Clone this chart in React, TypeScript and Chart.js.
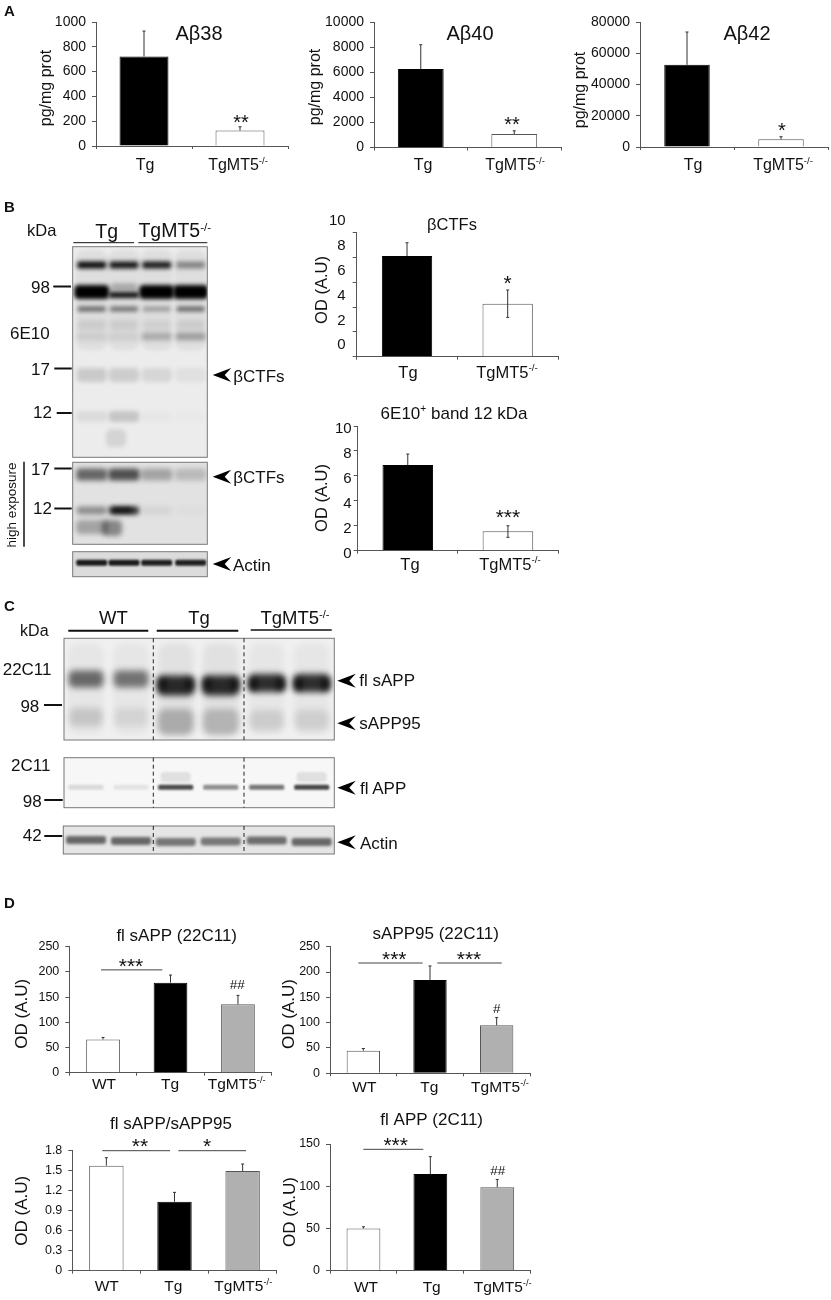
import React, { useEffect, useRef } from "react";
import { Chart, registerables } from "chart.js";

Chart.register(...registerables);

const FONT = '"Liberation Sans", Arial, sans-serif';

// ---- categories ----
const twoGroups = ["Tg", "TgMT5^-/-^"];
const threeGroups = ["WT", "Tg", "TgMT5^-/-^"];

// ---- series (bar value, error top, optional error bottom) ----
const abeta38Values = [722, 125];
const abeta38Upper = [927, 155];
const abeta40Values = [6250, 1070];
const abeta40Upper = [8190, 1330];
const abeta42Values = [52600, 4900];
const abeta42Upper = [73600, 6600];
const bctfValues = [8.12, 4.27];
const bctfUpper = [9.19, 5.38];
const bctfLower = [null, 3.17];
const band12Values = [6.87, 1.55];
const band12Upper = [7.75, 2.0];
const band12Lower = [null, 1.07];
const flSappValues = [66, 178.6, 135.6];
const flSappUpper = [70, 193.8, 153.4];
const sapp95Values = [44.7, 184, 94.7];
const sapp95Upper = [49, 212, 110];
const ratioValues = [1.575, 1.035, 1.495];
const ratioUpper = [1.695, 1.175, 1.6];
const flAppValues = [50, 114.5, 98.7];
const flAppUpper = [52, 135, 108];

const BLACK = "#000000";
const WHITE = "#ffffff";
const GREY = "#b0b0b0";

type Mark = { text: string; cat: number; value: number; size: number; star?: boolean };
type Bracket = { from: number; to: number; value: number };

interface Spec {
  labels: string[];
  values: number[];
  upper: number[];
  lower?: (number | null)[];
  colors: string[];
  plot: [number, number, number, number]; // left, top, right, bottom
  max: number;
  step: number;
  barPct: number;
  tickSize: number;
  tickGap: number;
  labelOffset: number;
  title: string;
  titleAt: [number, number];
  titleSize: number;
  yTitle: string;
  yTitleAt: [number, number];
  yTitleSize: number;
  xLabelX: number[];
  xLabelY: number;
  xLabelSize: number;
  marks: Mark[];
  brackets: Bracket[];
}

const specs: Spec[] = [
  {
    labels: twoGroups, values: abeta38Values, upper: abeta38Upper, colors: [BLACK, WHITE],
    plot: [96, 22, 288, 146], max: 1000, step: 200, barPct: 0.51, tickSize: 14, tickGap: 6, labelOffset: 0,
    title: "Aβ38", titleAt: [199, 34], titleSize: 20,
    yTitle: "pg/mg prot", yTitleAt: [47, 88], yTitleSize: 16,
    xLabelX: [145, 238], xLabelY: 166, xLabelSize: 16,
    marks: [{ text: "**", cat: 1.01, value: 210, size: 20, star: true }], brackets: [],
  },
  {
    labels: twoGroups, values: abeta40Values, upper: abeta40Upper, colors: [BLACK, WHITE],
    plot: [374, 22, 561, 147.5], max: 10000, step: 2000, barPct: 0.49, tickSize: 14, tickGap: 6, labelOffset: 0,
    title: "Aβ40", titleAt: [470, 34], titleSize: 20,
    yTitle: "pg/mg prot", yTitleAt: [316, 87], yTitleSize: 16,
    xLabelX: [423, 515], xLabelY: 166, xLabelSize: 16,
    marks: [{ text: "**", cat: 0.976, value: 2050, size: 20, star: true }], brackets: [],
  },
  {
    labels: twoGroups, values: abeta42Values, upper: abeta42Upper, colors: [BLACK, WHITE],
    plot: [640, 22, 828, 147], max: 80000, step: 20000, barPct: 0.484, tickSize: 14, tickGap: 6, labelOffset: 0,
    title: "Aβ42", titleAt: [747, 34], titleSize: 20,
    yTitle: "pg/mg prot", yTitleAt: [581, 90], yTitleSize: 16,
    xLabelX: [693, 783], xLabelY: 166, xLabelSize: 16,
    marks: [{ text: "*", cat: 1.01, value: 12180, size: 20, star: true }], brackets: [],
  },
  {
    labels: twoGroups, values: bctfValues, upper: bctfUpper, lower: bctfLower, colors: [BLACK, WHITE],
    plot: [356.7, 232.7, 558, 356.7], max: 10, step: 2, barPct: 0.5, tickSize: 15, tickGap: 7, labelOffset: -11.5,
    title: "βCTFs", titleAt: [452, 225], titleSize: 16.5,
    yTitle: "OD (A.U)", yTitleAt: [322, 290], yTitleSize: 16.5,
    xLabelX: [408, 507], xLabelY: 373, xLabelSize: 16.5,
    marks: [{ text: "*", cat: 1.0, value: 6.19, size: 21, star: true }], brackets: [],
  },
  {
    labels: twoGroups, values: band12Values, upper: band12Upper, lower: band12Lower, colors: [BLACK, WHITE],
    plot: [357.7, 426, 558, 550.7], max: 10, step: 2, barPct: 0.505, tickSize: 15, tickGap: 2, labelOffset: 3.3,
    title: "6E10^+^ band 12 kDa", titleAt: [454, 414], titleSize: 17,
    yTitle: "OD (A.U)", yTitleAt: [322, 498], yTitleSize: 16.5,
    xLabelX: [410, 510], xLabelY: 565, xLabelSize: 16.5,
    marks: [{ text: "***", cat: 1.0, value: 2.94, size: 21, star: true }], brackets: [],
  },
  {
    labels: threeGroups, values: flSappValues, upper: flSappUpper, colors: [WHITE, BLACK, GREY],
    plot: [69.3, 946.7, 271.7, 1072.7], max: 250, step: 50, barPct: 0.5, tickSize: 12.5, tickGap: 6, labelOffset: 0,
    title: "fl sAPP (22C11)", titleAt: [176.7, 936], titleSize: 17,
    yTitle: "OD (A.U)", yTitleAt: [22, 1013.7], yTitleSize: 17,
    xLabelX: [104, 170, 236.7], xLabelY: 1085, xLabelSize: 15.5,
    marks: [
      { text: "***", cat: 0.414, value: 218, size: 21, star: true },
      { text: "##", cat: 1.99, value: 174, size: 13.5 },
    ],
    brackets: [{ from: -0.03, to: 0.878, value: 204 }],
  },
  {
    labels: threeGroups, values: sapp95Values, upper: sapp95Upper, colors: [WHITE, BLACK, GREY],
    plot: [330, 946.7, 530, 1073.3], max: 250, step: 50, barPct: 0.5, tickSize: 12.5, tickGap: 6, labelOffset: 0,
    title: "sAPP95 (22C11)", titleAt: [435.7, 934], titleSize: 17,
    yTitle: "OD (A.U)", yTitleAt: [289, 1014], yTitleSize: 17,
    xLabelX: [364.3, 429.3, 500], xLabelY: 1087.7, xLabelSize: 15.5,
    marks: [
      { text: "***", cat: 0.464, value: 231.6, size: 21, star: true },
      { text: "***", cat: 1.585, value: 231.6, size: 21, star: true },
      { text: "#", cat: 2.0, value: 127, size: 13.5 },
    ],
    brackets: [
      { from: -0.075, to: 0.89, value: 217.8 },
      { from: 1.109, to: 2.075, value: 217.8 },
    ],
  },
  {
    labels: threeGroups, values: ratioValues, upper: ratioUpper, colors: [WHITE, BLACK, GREY],
    plot: [72.3, 1150.7, 276.7, 1270.7], max: 1.8, step: 0.3, barPct: 0.505, tickSize: 12.5, tickGap: 6, labelOffset: 0,
    title: "fl sAPP/sAPP95", titleAt: [171, 1124], titleSize: 17,
    yTitle: "OD (A.U)", yTitleAt: [22, 1210.7], yTitleSize: 17,
    xLabelX: [106.7, 173.3, 243.3], xLabelY: 1286.7, xLabelSize: 15.5,
    marks: [
      { text: "**", cat: 0.494, value: 1.915, size: 21, star: true },
      { text: "*", cat: 1.48, value: 1.915, size: 21, star: true },
    ],
    brackets: [
      { from: -0.06, to: 0.934, value: 1.8 },
      { from: 1.056, to: 2.05, value: 1.8 },
    ],
  },
  {
    labels: threeGroups, values: flAppValues, upper: flAppUpper, colors: [WHITE, BLACK, GREY],
    plot: [330, 1144, 530.7, 1270.7], max: 150, step: 50, barPct: 0.505, tickSize: 12.5, tickGap: 6, labelOffset: 0,
    title: "fl APP (2C11)", titleAt: [431.7, 1120], titleSize: 17,
    yTitle: "OD (A.U)", yTitleAt: [290, 1212], yTitleSize: 17,
    xLabelX: [366, 431.7, 502.7], xLabelY: 1288, xLabelSize: 15.5,
    marks: [
      { text: "***", cat: 0.482, value: 152.7, size: 21, star: true },
      { text: "##", cat: 2.007, value: 117.6, size: 13.5 },
    ],
    brackets: [{ from: -0.002, to: 0.895, value: 143.7 }],
  },
];

// ---- text helpers ----
function richWidth(ctx: CanvasRenderingContext2D, text: string, size: number) {
  let w = 0;
  text.split("^").forEach((part, i) => {
    ctx.font = `${i % 2 ? size * 0.6 : size}px ${FONT}`;
    w += ctx.measureText(part).width;
  });
  return w;
}

function drawRich(ctx: CanvasRenderingContext2D, text: string, cx: number, cy: number, size: number) {
  const total = richWidth(ctx, text, size);
  let x = cx - total / 2;
  ctx.textAlign = "left";
  ctx.textBaseline = "middle";
  text.split("^").forEach((part, i) => {
    const sup = i % 2 === 1;
    ctx.font = `${sup ? size * 0.6 : size}px ${FONT}`;
    ctx.fillText(part, x, sup ? cy - size * 0.3 : cy);
    x += ctx.measureText(part).width;
  });
}

function BarPanel({ spec }: { spec: Spec }) {
  const ref = useRef<HTMLCanvasElement>(null);
  const [pl, pt, pr, pb] = spec.plot;
  const cl = Math.max(0, Math.floor(pl - 72));
  const ct = Math.max(0, Math.floor(pt - 40));
  const cr = Math.min(831, Math.ceil(pr + 3));
  const cb = Math.min(1300, Math.ceil(pb + 28));
  const W = cr - cl;
  const H = cb - ct;

  useEffect(() => {
    const axisColor = "#555555";
    const overlay = {
      id: "overlay",
      afterDatasetsDraw(chart: any) {
        const c = chart.ctx as CanvasRenderingContext2D;
        const x = chart.scales.x;
        const y = chart.scales.y;
        c.save();
        c.strokeStyle = "#333333";
        c.lineWidth = 1;
        spec.upper.forEach((u, i) => {
          const px = x.getPixelForValue(i);
          const top = y.getPixelForValue(u);
          const low = spec.lower && spec.lower[i] != null ? (spec.lower[i] as number) : spec.values[i];
          const bottom = y.getPixelForValue(low);
          c.beginPath();
          c.moveTo(px, bottom);
          c.lineTo(px, top);
          c.moveTo(px - 1.5, top);
          c.lineTo(px + 1.5, top);
          if (spec.lower && spec.lower[i] != null) {
            c.moveTo(px - 1.5, bottom);
            c.lineTo(px + 1.5, bottom);
          }
          c.stroke();
        });
        c.strokeStyle = "#444444";
        spec.brackets.forEach((b) => {
          const py = y.getPixelForValue(b.value);
          c.beginPath();
          c.moveTo(x.getPixelForValue(b.from), py);
          c.lineTo(x.getPixelForValue(b.to), py);
          c.stroke();
        });
        c.fillStyle = "#111111";
        spec.marks.forEach((m) => {
          const px = x.getPixelForValue(m.cat);
          const py = y.getPixelForValue(m.value) + (m.star ? m.size * 0.2 : 0);
          drawRich(c, m.text, px, py, m.size);
        });
        drawRich(c, spec.title, spec.titleAt[0] - cl, spec.titleAt[1] - ct, spec.titleSize);
        spec.labels.forEach((l, i) => {
          drawRich(c, l, spec.xLabelX[i] - cl, spec.xLabelY - ct, spec.xLabelSize);
        });
        c.translate(spec.yTitleAt[0] - cl, spec.yTitleAt[1] - ct);
        c.rotate(-Math.PI / 2);
        drawRich(c, spec.yTitle, 0, 0, spec.yTitleSize);
        c.restore();
      },
    };

    const chart = new Chart(ref.current as HTMLCanvasElement, {
      type: "bar",
      data: {
        labels: spec.labels.map((l) => l.replace(/\^/g, "")),
        datasets: [
          {
            data: spec.values,
            backgroundColor: spec.colors,
            borderColor: spec.colors.map((k) => (k === BLACK ? BLACK : "#555555")),
            borderWidth: 1,
            barPercentage: spec.barPct,
            categoryPercentage: 1,
          },
        ],
      },
      options: {
        responsive: false,
        animation: false,
        events: [],
        layout: { padding: { left: 0, top: pt - ct, right: cr - pr, bottom: 0 } },
        plugins: { legend: { display: false }, tooltip: { enabled: false }, title: { display: false } },
        scales: {
          x: {
            grid: { drawOnChartArea: false, drawTicks: true, tickLength: 3, color: axisColor },
            border: { color: axisColor },
            ticks: { display: false },
            afterFit: (s: any) => {
              s.height = cb - pb;
            },
          },
          y: {
            min: 0,
            max: spec.max,
            grid: { drawOnChartArea: false, drawTicks: true, tickLength: 4, color: axisColor },
            border: { color: axisColor },
            ticks: {
              stepSize: spec.step,
              padding: spec.tickGap,
              labelOffset: spec.labelOffset,
              color: "#111111",
              font: { family: "Liberation Sans", size: spec.tickSize },
              callback: (v: any) => String(+(+v).toFixed(1)),
            },
            afterFit: (s: any) => {
              s.width = pl - cl;
            },
          },
        },
      } as any,
      plugins: [overlay],
    });
    return () => chart.destroy();
  }, []);

  return (
    <canvas
      ref={ref}
      width={W}
      height={H}
      style={{ position: "absolute", left: cl, top: ct, width: W, height: H, display: "block" }}
    />
  );
}

// ---- gel images: [centre x, centre y, width, height, darkness] ----
type Band = [number, number, number, number, number];
type Gel = { box: [number, number, number, number]; bg: string; blur: number; bands: Band[] };

const lanesB = [91.7, 124, 156.7, 190.7];
const lanesC = [86, 131, 175.7, 220.7, 266.7, 311.7];

const row = (lanes: number[], y: number | number[], w: number, h: number, d: number[]): Band[] =>
  lanes.map((x, i) => [x, Array.isArray(y) ? y[i] : y, w, h, d[i]] as Band);

const gels: Gel[] = [
  {
    box: [72.7, 246.7, 207.3, 457.3], bg: "#ececec", blur: 1.9,
    bands: [
      ...row(lanesB, 300, 32, 100, [0.06, 0.06, 0.06, 0.06]),
      ...row(lanesB, 265, 29, 7, [0.95, 0.9, 0.88, 0.4]),
      ...row([91.7, 156.7, 190.7], 292, 35, 14, [1, 1, 1]),
      [124, 295, 30, 6, 0.95],
      [124, 287, 26, 7, 0.25],
      ...row(lanesB, 309, 28, 5, [0.55, 0.5, 0.3, 0.55]),
      ...row(lanesB, 325, 28, 10, [0.08, 0.08, 0.06, 0.08]),
      ...row(lanesB, 336.5, 30, 8, [0.08, 0.07, 0.22, 0.28]),
      ...row(lanesB, 375, 30, 14, [0.14, 0.13, 0.09, 0.05]),
      ...row(lanesB, 416.5, 30, 11, [0.07, 0.16, 0.02, 0.01]),
      [116, 438, 20, 18, 0.1],
    ],
  },
  {
    box: [72.7, 462.3, 207.3, 544.3], bg: "#e2e2e2", blur: 2.6,
    bands: [
      ...row(lanesB, 474.5, 31, 12, [0.55, 0.65, 0.28, 0.18]),
      ...row(lanesB, 510.5, 30, 8, [0.38, 0.8, 0.06, 0.02]),
      [122, 510, 20, 4, 0.95],
      [92, 527, 32, 14, 0.28],
      [112, 528, 20, 16, 0.4],
    ],
  },
  {
    box: [72.7, 551.7, 207.3, 576.7], bg: "#dcdcdc", blur: 1.3,
    bands: row(lanesB, 562.7, 31, 6, [0.88, 0.88, 0.85, 0.85]),
  },
  {
    box: [64, 638.3, 334.3, 740], bg: "#f0f0f0", blur: 3.2,
    bands: [
      ...row(lanesC, 689, 36, 92, [0.04, 0.04, 0.06, 0.06, 0.04, 0.04]),
      ...row(lanesC.slice(0, 2), 679, 35, 17, [0.55, 0.5]),
      ...row(lanesC.slice(2, 4), 685.5, 37, 20, [0.82, 0.82]),
      ...row(lanesC.slice(4), 683, 36, 18, [0.8, 0.8]),
      ...row([162, 190, 207, 235, 253, 281, 298, 326], 684, 7, 12, [0.7, 0.7, 0.7, 0.7, 0.85, 0.85, 0.85, 0.85]),
      ...row(lanesC.slice(0, 2), 717, 33, 18, [0.14, 0.08]),
      ...row(lanesC.slice(2, 4), 722, 36, 26, [0.24, 0.2]),
      ...row(lanesC.slice(4), 720, 34, 20, [0.11, 0.1]),
    ],
  },
  {
    box: [64, 757.7, 334.3, 807.7], bg: "#f7f7f7", blur: 1.3,
    bands: [
      ...row(lanesC, 787.3, 35, 5, [0.12, 0.08, 0.7, 0.42, 0.52, 0.72]),
      ...row([175.7, 311.7], 777, 30, 10, [0.09, 0.09]),
    ],
  },
  {
    box: [63.3, 826, 334.3, 854], bg: "#e5e5e5", blur: 1.6,
    bands: row(lanesC, [840, 841, 842, 841.5, 840.5, 842], 40, 8, [0.55, 0.55, 0.48, 0.48, 0.52, 0.55]),
  },
];

const cutLines = [153.3, 244];
const cutSpans: [number, number][] = [[638.3, 740], [757.7, 807.7], [826, 854]];

// [x1, y1, x2, y2, line width]
const rules: [number, number, number, number, number][] = [
  [73.3, 242.7, 134, 242.7, 1], [138.3, 242.7, 207.3, 242.7, 1],
  [53.3, 286.5, 71, 286.5, 2], [54.3, 368.5, 71.7, 368.5, 2], [56.7, 413, 71.7, 413, 2],
  [54.3, 468.5, 71.7, 468.5, 2], [54.3, 508.5, 71.7, 508.5, 2], [24, 461.7, 24, 546.7, 1.5],
  [68.3, 630.7, 148.3, 630.7, 2], [156.7, 630.7, 238.3, 630.7, 2], [250.7, 630, 331.7, 630, 1.5],
  [44, 705, 62, 705, 2], [44.3, 800, 62.7, 800, 2], [44.3, 836, 62.3, 836, 2],
];

const arrowheads: [number, number][] = [
  [212.7, 375], [212.7, 476.7], [212.7, 564], [337.3, 680.7], [337.3, 723.3], [337.3, 787.7], [337.3, 842.3],
];

function GelCanvas() {
  const ref = useRef<HTMLCanvasElement>(null);
  useEffect(() => {
    const c = (ref.current as HTMLCanvasElement).getContext("2d") as CanvasRenderingContext2D;
    c.clearRect(0, 0, 831, 1300);
    gels.forEach((g) => {
      const [l, t, r, b] = g.box;
      c.save();
      c.beginPath();
      c.rect(l, t, r - l, b - t);
      c.clip();
      c.fillStyle = g.bg;
      c.fillRect(l, t, r - l, b - t);
      c.filter = `blur(${g.blur}px)`;
      g.bands.forEach(([x, y, w, h, d]) => {
        c.fillStyle = `rgba(0,0,0,${d})`;
        c.beginPath();
        c.roundRect(x - w / 2, y - h / 2, w, h, Math.min(h, w) * 0.3);
        c.fill();
      });
      c.restore();
      c.strokeStyle = "#777777";
      c.lineWidth = 1;
      c.strokeRect(l, t, r - l, b - t);
    });
    c.strokeStyle = "#222222";
    c.lineWidth = 1;
    c.setLineDash([4, 3]);
    cutLines.forEach((x) =>
      cutSpans.forEach(([t, b]) => {
        c.beginPath();
        c.moveTo(x, t);
        c.lineTo(x, b);
        c.stroke();
      })
    );
    c.setLineDash([]);
    c.strokeStyle = "#111111";
    rules.forEach(([a, b, d, e, w]) => {
      c.lineWidth = w;
      c.beginPath();
      c.moveTo(a, b);
      c.lineTo(d, e);
      c.stroke();
    });
    c.fillStyle = "#000000";
    arrowheads.forEach(([x, y]) => {
      c.beginPath();
      c.moveTo(x, y);
      c.lineTo(x + 18.5, y - 7);
      c.lineTo(x + 12, y);
      c.lineTo(x + 18.5, y + 7);
      c.closePath();
      c.fill();
    });
  }, []);
  return (
    <canvas
      ref={ref}
      width={831}
      height={1300}
      style={{ position: "absolute", left: 0, top: 0, width: 831, height: 1300, display: "block" }}
    />
  );
}

// ---- page labels ----
type Lbl = { t: string; x: number; y: number; s: number; a?: "l" | "c" | "r"; b?: boolean; rot?: boolean };
const pageLabels: Lbl[] = [
  { t: "A", x: 4, y: 10, s: 15, a: "l", b: true },
  { t: "B", x: 4, y: 206, s: 15, a: "l", b: true },
  { t: "C", x: 4, y: 605, s: 15, a: "l", b: true },
  { t: "D", x: 4, y: 902, s: 15, a: "l", b: true },
  { t: "kDa", x: 41.7, y: 230, s: 16.5 },
  { t: "Tg", x: 106.7, y: 231.5, s: 19.5 },
  { t: "TgMT5^-/-^", x: 174.8, y: 231, s: 19.5 },
  { t: "98", x: 50, y: 287.3, s: 17, a: "r" },
  { t: "6E10", x: 10, y: 333.3, s: 17, a: "l" },
  { t: "17", x: 50, y: 369, s: 17, a: "r" },
  { t: "12", x: 52, y: 412.3, s: 17, a: "r" },
  { t: "17", x: 50, y: 469.3, s: 17, a: "r" },
  { t: "12", x: 52, y: 508.3, s: 17, a: "r" },
  { t: "high exposure", x: 12.3, y: 505, s: 13.5, rot: true },
  { t: "βCTFs", x: 233.3, y: 376, s: 17, a: "l" },
  { t: "βCTFs", x: 233.3, y: 477, s: 17, a: "l" },
  { t: "Actin", x: 233, y: 565, s: 17, a: "l" },
  { t: "WT", x: 113.3, y: 618.3, s: 18.5 },
  { t: "Tg", x: 199, y: 618.3, s: 18.5 },
  { t: "TgMT5^-/-^", x: 295, y: 618, s: 18.5 },
  { t: "kDa", x: 34.3, y: 630.7, s: 16 },
  { t: "22C11", x: 2.7, y: 669.3, s: 17, a: "l" },
  { t: "98", x: 39.3, y: 705.7, s: 17, a: "r" },
  { t: "2C11", x: 11, y: 765, s: 17, a: "l" },
  { t: "98", x: 41.7, y: 800.7, s: 17, a: "r" },
  { t: "42", x: 41.7, y: 835, s: 17, a: "r" },
  { t: "fl sAPP", x: 359.3, y: 680, s: 17, a: "l" },
  { t: "sAPP95", x: 359.3, y: 723, s: 17, a: "l" },
  { t: "fl APP", x: 360, y: 788, s: 17, a: "l" },
  { t: "Actin", x: 360, y: 843, s: 17, a: "l" },
];

function rich(text: string) {
  return text.split("^").map((p, i) =>
    i % 2 ? (
      <span key={i} style={{ fontSize: "0.6em", position: "relative", top: "-0.5em" }}>
        {p}
      </span>
    ) : (
      <span key={i}>{p}</span>
    )
  );
}

export default function App() {
  return (
    <div style={{ position: "absolute", left: 0, top: 0, width: 831, height: 1300, background: "#fff", overflow: "hidden" }}>
      <GelCanvas />
      {specs.map((s, i) => (
        <BarPanel key={i} spec={s} />
      ))}
      {pageLabels.map((l, i) => {
        const tx = l.a === "l" ? "0" : l.a === "r" ? "-100%" : "-50%";
        return (
          <div
            key={i}
            style={{
              position: "absolute",
              left: l.x,
              top: l.y,
              fontFamily: FONT,
              fontSize: l.s,
              fontWeight: l.b ? 700 : 400,
              lineHeight: 1,
              color: "#111",
              whiteSpace: "nowrap",
              transform: `translate(${tx}, -50%)${l.rot ? " rotate(-90deg)" : ""}`,
            }}
          >
            {rich(l.t)}
          </div>
        );
      })}
    </div>
  );
}
